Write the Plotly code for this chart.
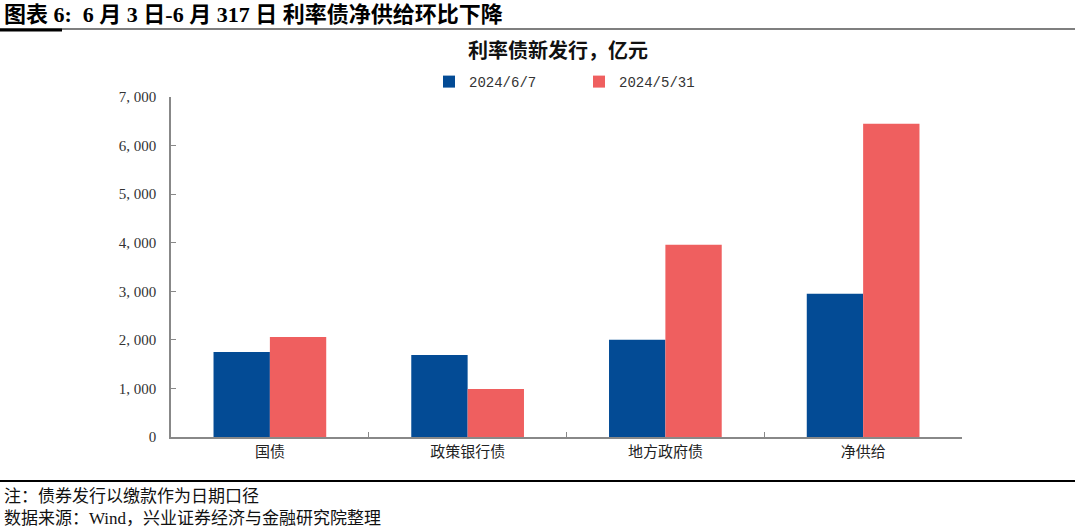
import plotly.graph_objects as go

categories = ["国债", "政策银行债", "地方政府债", "净供给"]
series_names = ["2024/6/7", "2024/5/31"]
values_0607 = [1750, 1690, 2000, 2950]
values_0531 = [2060, 990, 3960, 6450]
colors = ["#034B95", "#EF5F5F"]
tick_vals = [0, 1000, 2000, 3000, 4000, 5000, 6000, 7000]
tick_text = ["0", "1, 000", "2, 000", "3, 000", "4, 000", "5, 000", "6, 000", "7, 000"]

W, H = 1080, 532
L, R, T, B = 171, 118, 97, 95
PW, PH = W - L - R, H - T - B
font_main = "Liberation Serif, Noto Sans CJK SC, serif"


def px(xp):
    return (xp - L) / PW


def py(yp):
    return (H - B - yp) / PH


fig = go.Figure()
for name, vals, col in zip(series_names, [values_0607, values_0531], colors):
    fig.add_trace(go.Bar(x=categories, y=vals, name=name,
                         marker=dict(color=col, line=dict(width=0))))

fig.update_layout(
    width=W, height=H,
    margin=dict(l=L, r=R, t=T, b=B),
    paper_bgcolor="white", plot_bgcolor="white",
    barmode="group", bargap=0.43, bargroupgap=0,
    font=dict(family=font_main, size=14, color="#333333"),
    showlegend=True,
    legend=dict(orientation="h", x=px(429), xanchor="left", y=py(82), yanchor="middle",
                entrywidth=105, font=dict(size=14, color="#333333", family="Liberation Mono"),
                itemwidth=30, traceorder="normal"),
    xaxis=dict(showline=True, linecolor="#888888", linewidth=1.5,
               ticks="inside", tickson="boundaries", ticklen=5, tickcolor="#888888",
               tickfont=dict(size=15, color="#222222", family="Noto Sans CJK SC"),
               showgrid=False),
    yaxis=dict(range=[0, 7000], tickvals=tick_vals, ticktext=tick_text,
               showline=True, linecolor="#888888", linewidth=1.5,
               ticks="inside", ticklen=5, tickcolor="#888888",
               tickfont=dict(size=15, color="#333333"),
               showgrid=False, zeroline=False, ticklabelstandoff=10),
)

# header / footer lines
fig.add_shape(type="line", xref="paper", yref="paper",
              x0=px(0), x1=px(1075), y0=py(29), y1=py(29),
              line=dict(color="#000000", width=1.2))
fig.add_shape(type="line", xref="paper", yref="paper",
              x0=px(0), x1=px(62), y0=py(30), y1=py(30),
              line=dict(color="#000000", width=3))
fig.add_shape(type="line", xref="paper", yref="paper",
              x0=px(0), x1=px(1075), y0=py(481), y1=py(481),
              line=dict(color="#000000", width=2))

fig.add_annotation(text="<b>图表 6:  6 月 3 日-6 月 317 日 利率债净供给环比下降</b>",
                   xref="paper", yref="paper", x=px(2), y=py(14),
                   xanchor="left", yanchor="middle", showarrow=False,
                   font=dict(size=22, color="#000000", family="Liberation Serif, Noto Sans CJK SC"))
fig.add_annotation(text="<b>利率债新发行，亿元</b>",
                   xref="paper", yref="paper", x=px(558), y=py(49),
                   xanchor="center", yanchor="middle", showarrow=False,
                   font=dict(size=20, color="#111111", family="Noto Sans CJK SC"))
fig.add_annotation(text="注：债券发行以缴款作为日期口径",
                   xref="paper", yref="paper", x=px(2), y=py(494),
                   xanchor="left", yanchor="middle", showarrow=False,
                   font=dict(size=17, color="#111111", family="Noto Sans CJK SC"))
fig.add_annotation(text="数据来源：Wind，兴业证券经济与金融研究院整理",
                   xref="paper", yref="paper", x=px(2), y=py(518),
                   xanchor="left", yanchor="middle", showarrow=False,
                   font=dict(size=17, color="#111111", family="Liberation Serif, Noto Sans CJK SC"))

fig.write_html("out.html")
